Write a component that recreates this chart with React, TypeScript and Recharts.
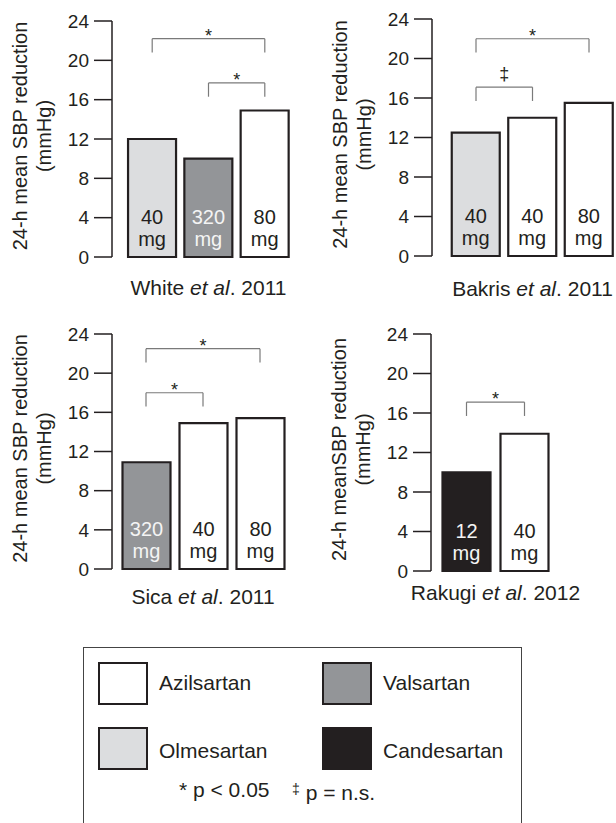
import {Bar, BarChart, Cell, LabelList, ReferenceLine, XAxis, YAxis} from 'recharts';

const FONT = '"Liberation Sans", Arial, Helvetica, sans-serif';
const INK = '#231f20';
const BRACKET = '#7a7a7a';

const drugColors: Record<string, string> = {
    Azilsartan: '#ffffff',
    Valsartan: '#939598',
    Olmesartan: '#dcdddf',
    Candesartan: '#231f20',
};
const darkDrugs = ['Valsartan', 'Candesartan'];

const yTicks = [0, 4, 8, 12, 16, 20, 24];
const doseUnit = 'mg';
const yTitleLines = ['24-h mean SBP reduction', '(mmHg)'];
const yTitleLinesRakugi = ['24-h meanSBP reduction', '(mmHg)'];

// White et al. 2011
const whiteDrugs = ['Olmesartan', 'Valsartan', 'Azilsartan'];
const whiteDoses = ['40', '320', '80'];
const whiteValues = [12.0, 10.0, 14.9];
const whiteBrackets = [
    {from: 0, to: 2, y: 22.2, mark: '*'},
    {from: 1, to: 2, y: 17.7, mark: '*'},
];

// Bakris et al. 2011
const bakrisDrugs = ['Olmesartan', 'Azilsartan', 'Azilsartan'];
const bakrisDoses = ['40', '40', '80'];
const bakrisValues = [12.5, 14.0, 15.5];
const bakrisBrackets = [
    {from: 0, to: 2, y: 22.0, mark: '*'},
    {from: 0, to: 1, y: 17.1, mark: '‡'},
];

// Sica et al. 2011
const sicaDrugs = ['Valsartan', 'Azilsartan', 'Azilsartan'];
const sicaDoses = ['320', '40', '80'];
const sicaValues = [10.9, 14.9, 15.4];
const sicaBrackets = [
    {from: 0, to: 2, y: 22.5, mark: '*'},
    {from: 0, to: 1, y: 18.0, mark: '*'},
];

// Rakugi et al. 2012
const rakugiDrugs = ['Candesartan', 'Azilsartan'];
const rakugiDoses = ['12', '40'];
const rakugiValues = [10.0, 13.9];
const rakugiBrackets = [{from: 0, to: 1, y: 17.1, mark: '*'}];

const legendDrugs = ['Azilsartan', 'Valsartan', 'Olmesartan', 'Candesartan'];
const legendNotes = ['* p < 0.05', 'p = n.s.'];

const BRACKET_LEG = 1.4;

const studies = [
    {author: 'White', year: '2011', drugs: whiteDrugs, doses: whiteDoses, values: whiteValues, brackets: whiteBrackets, yTitle: yTitleLines},
    {author: 'Bakris', year: '2011', drugs: bakrisDrugs, doses: bakrisDoses, values: bakrisValues, brackets: bakrisBrackets, yTitle: yTitleLines},
    {author: 'Sica', year: '2011', drugs: sicaDrugs, doses: sicaDoses, values: sicaValues, brackets: sicaBrackets, yTitle: yTitleLines},
    {author: 'Rakugi', year: '2012', drugs: rakugiDrugs, doses: rakugiDoses, values: rakugiValues, brackets: rakugiBrackets, yTitle: yTitleLinesRakugi},
];

// page placement of each panel (pixels)
const layouts = [
    {left: 0, top: 0, axisX: 112, firstCenter: 152.2, spacing: 56.3, top24: 21, bottom0: 257, titleBaseline: 295},
    {left: 300, top: 0, axisX: 432, firstCenter: 476, spacing: 56.5, top24: 19, bottom0: 256, titleBaseline: 296},
    {left: 0, top: 300, axisX: 112, firstCenter: 146, spacing: 57, top24: 334, bottom0: 569, titleBaseline: 604},
    {left: 300, top: 300, axisX: 431, firstCenter: 466.5, spacing: 58, top24: 334, bottom0: 571, titleBaseline: 600},
];

function YTitle({px, py, lines}: {px: number; py: number; lines: string[]}) {
    return (
        <text
            transform={`rotate(-90, ${px}, ${py})`}
            x={px}
            y={py}
            textAnchor="middle"
            fontSize={20}
            fontFamily={FONT}
            fill={INK}
        >
            {lines.map((l, i) => (
                <tspan key={i} x={px} dy={i === 0 ? 0 : 24}>{l}</tspan>
            ))}
        </text>
    );
}

function StudyTitle({px, py, author, year}: {px: number; py: number; author: string; year: string}) {
    return (
        <text x={px} y={py} textAnchor="middle" fontSize={21} fontFamily={FONT} fill={INK}>
            {`${author} `}
            <tspan fontStyle="italic">et al</tspan>
            {`. ${year}`}
        </text>
    );
}

function BracketMark(props: any) {
    const {viewBox, mark} = props;
    if (!viewBox) return null;
    const x = viewBox.x + viewBox.width / 2;
    const y = viewBox.y + (mark === '*' ? 3 : -7);
    return (
        <text x={x} y={y} textAnchor="middle" fontSize={18} fontFamily={FONT} fill={INK}>
            {mark}
        </text>
    );
}

function StudyChart({study, layout}: {study: typeof studies[number]; layout: typeof layouts[number]}) {
    const n = study.values.length;
    const data = study.values.map((v, i) => ({
        key: String(i),
        value: v,
        dose: study.doses[i],
        drug: study.drugs[i],
    }));
    const {left, top, axisX, firstCenter, spacing, top24, bottom0, titleBaseline} = layout;
    const bandStart = firstCenter - spacing / 2;
    const plotRight = bandStart + n * spacing;
    const width = Math.max(Math.ceil(plotRight - left) + 2, 310);
    const height = titleBaseline - top + 12;
    const yAxisWidth = axisX - left;
    const xAxisHeight = height - (bottom0 - top);
    const padLeft = bandStart - axisX;
    const plotMidY = (top24 + bottom0) / 2 - top;

    const renderDose = (p: any) => {
        const x = Number(p.x);
        const w = Number(p.width);
        const bottom = Number(p.y) + Number(p.height);
        const row = data[p.index];
        const color = row && darkDrugs.includes(row.drug) ? '#f4f4f4' : INK;
        const cx = x + w / 2;
        return (
            <g>
                <text x={cx} y={bottom - 33} textAnchor="middle" fontSize={20} fontFamily={FONT} fill={color}>
                    {p.value}
                </text>
                <text x={cx} y={bottom - 11} textAnchor="middle" fontSize={20} fontFamily={FONT} fill={color}>
                    {doseUnit}
                </text>
            </g>
        );
    };

    return (
        <div style={{position: 'absolute', left, top}}>
            <BarChart
                width={width}
                height={height}
                data={data}
                margin={{top: top24 - top, right: width - (plotRight - left), left: 0, bottom: 0}}
            >
                <XAxis
                    dataKey="key"
                    type="category"
                    height={xAxisHeight}
                    padding={{left: padLeft, right: 0}}
                    tick={false}
                    tickLine={false}
                    axisLine={false}
                    label={
                        <StudyTitle
                            px={(bandStart + plotRight) / 2 - left}
                            py={titleBaseline - top}
                            author={study.author}
                            year={study.year}
                        />
                    }
                />
                <YAxis
                    width={yAxisWidth}
                    domain={[0, 24]}
                    ticks={yTicks}
                    interval={0}
                    tickSize={18}
                    tickMargin={5}
                    tick={{fill: INK, fontSize: 19, fontFamily: FONT}}
                    axisLine={{stroke: INK, strokeWidth: 1.5}}
                    tickLine={{stroke: INK, strokeWidth: 1.5}}
                    label={<YTitle px={axisX - left - 85} py={plotMidY - 3} lines={study.yTitle}/>}
                />
                <Bar dataKey="value" barSize={48} stroke={INK} strokeWidth={2.2} isAnimationActive={false}>
                    {data.map((d) => (
                        <Cell key={d.key} fill={drugColors[d.drug]}/>
                    ))}
                    <LabelList dataKey="dose" content={renderDose}/>
                </Bar>
                {study.brackets.flatMap((b, i) => [
                    <ReferenceLine
                        key={`h${i}`}
                        segment={[{x: String(b.from), y: b.y}, {x: String(b.to), y: b.y}]}
                        stroke={BRACKET}
                        strokeWidth={1.2}
                        label={<BracketMark mark={b.mark}/>}
                    />,
                    <ReferenceLine
                        key={`l${i}`}
                        segment={[{x: String(b.from), y: b.y}, {x: String(b.from), y: b.y - BRACKET_LEG}]}
                        stroke={BRACKET}
                        strokeWidth={1.2}
                    />,
                    <ReferenceLine
                        key={`r${i}`}
                        segment={[{x: String(b.to), y: b.y}, {x: String(b.to), y: b.y - BRACKET_LEG}]}
                        stroke={BRACKET}
                        strokeWidth={1.2}
                    />,
                ])}
            </BarChart>
        </div>
    );
}

function Legend() {
    const textStyle = {
        position: 'absolute' as const,
        fontSize: 21,
        lineHeight: '21px',
        fontFamily: FONT,
        color: INK,
        whiteSpace: 'nowrap' as const,
    };
    return (
        <>
            <div
                style={{
                    position: 'absolute',
                    left: 83,
                    top: 647,
                    width: 439,
                    height: 220,
                    border: '1px solid #444',
                    boxSizing: 'border-box',
                }}
            />
            {legendDrugs.map((drug, i) => {
                const col = i % 2;
                const row = Math.floor(i / 2);
                const sx = col === 0 ? 98 : 322;
                const sy = row === 0 ? 662 : 727;
                const baseline = row === 0 ? 690 : 758;
                return (
                    <div key={drug}>
                        <div
                            style={{
                                position: 'absolute',
                                left: sx,
                                top: sy,
                                width: 50,
                                height: 43,
                                background: drugColors[drug],
                                border: `2px solid ${INK}`,
                                boxSizing: 'border-box',
                            }}
                        />
                        <div style={{...textStyle, left: sx + 61, top: baseline - 18}}>{drug}</div>
                    </div>
                );
            })}
            <div style={{...textStyle, left: 179, top: 779}}>{legendNotes[0]}</div>
            <div style={{...textStyle, left: 292, top: 779}}>
                <span style={{fontSize: 14, verticalAlign: '6px'}}>‡</span> {legendNotes[1]}
            </div>
        </>
    );
}

export default function App() {
    return (
        <div
            style={{
                position: 'absolute',
                left: 0,
                top: 0,
                width: 616,
                height: 823,
                overflow: 'hidden',
                background: '#ffffff',
            }}
        >
            {studies.map((s, i) => (
                <StudyChart key={s.author} study={s} layout={layouts[i]}/>
            ))}
            <Legend/>
        </div>
    );
}
